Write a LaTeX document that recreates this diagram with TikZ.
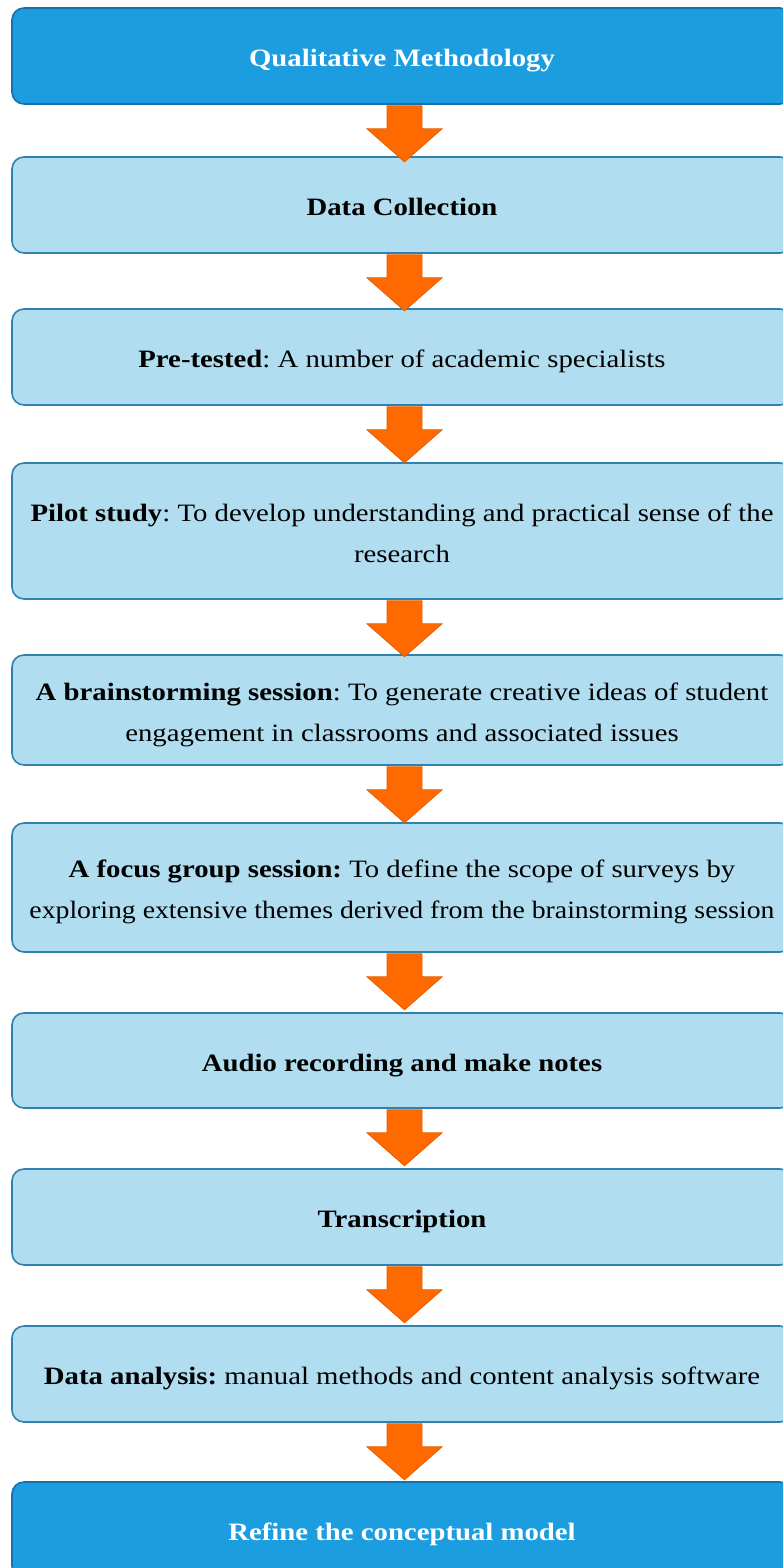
\documentclass[tikz,border=0pt]{standalone}
\usepackage{fontspec}
\usepackage{graphicx}
\setmainfont{Liberation Serif}[FakeStretch=1.15]
\usetikzlibrary{calc}

\definecolor{darkfill}{HTML}{1C9DDF}
\definecolor{darkedge}{HTML}{1670AE}
\definecolor{lightfill}{HTML}{B0DDEF}
\definecolor{lightedge}{HTML}{2F82B0}
\definecolor{arrowfill}{HTML}{FF6A00}
\definecolor{arrowedge}{HTML}{E45C00}

% struts that fix the height of a first line and the depth of a last line
\newcommand\firststrut{\rule{0pt}{28pt}}
\newcommand\laststrut{\rule[-7pt]{0pt}{0pt}}

\tikzset{
  stage/.style={draw=lightedge, fill=lightfill, line width=1.6pt,
    rounded corners=12pt, minimum width=780pt,
    align=center, inner sep=0pt, text=black,
    font=\fontsize{25}{41}\selectfont\frenchspacing},
  keystage/.style={stage, draw=darkedge, fill=darkfill, text=white,
    font=\fontsize{25}{41}\selectfont\frenchspacing\bfseries},
  flowarrow/.style={fill=arrowfill, draw=arrowedge, line width=0.8pt,
    line join=miter}
}

% block arrow hanging below the first node, pointing at the second
\newcommand\stepto[2]{%
  \path[flowarrow] let \p1=(#1.south), \p2=(#2.north) in
    (387pt,\y1-1pt) -- (422pt,\y1-1pt) -- (422pt,\y1-24pt) --
    (442pt,\y1-24pt) -- (404.5pt,\y1-57pt) -- (367pt,\y1-24pt) --
    (387pt,\y1-24pt) -- cycle;}

\begin{document}
\begin{tikzpicture}[x=1pt,y=-1pt]
  \useasboundingbox (0,0) rectangle (783,1568);
  \clip (0,0) rectangle (783,1568);

  \node[keystage, minimum height=96pt] (qm) at (402,56)
    {\firststrut Qualitative Methodology\laststrut};
  \node[stage, minimum height=96pt] (dc) at (402,205)
    {\firststrut\textbf{Data Collection}\laststrut};
  \node[stage, minimum height=96pt] (pt) at (402,357)
    {\firststrut\textbf{Pre-tested}: A number of academic specialists\laststrut};
  \node[stage, minimum height=136pt] (ps) at (402,531)
    {\firststrut\textbf{Pilot study}: To develop understanding and practical sense of the\\research\laststrut};
  \node[stage, minimum height=110pt] (bs) at (402,710)
    {\firststrut\textbf{A brainstorming session}: To generate creative ideas of student\\engagement in classrooms and associated issues\laststrut};
  \node[stage, minimum height=129pt] (fg) at (402,887.5)
    {\firststrut\textbf{A focus group session:} To define the scope of surveys by\\\scalebox{0.965}[1]{exploring extensive themes derived from the brainstorming session}\laststrut};
  \node[stage, minimum height=95pt] (ar) at (402,1060.5)
    {\firststrut\textbf{Audio recording and make notes}\laststrut};
  \node[stage, minimum height=96pt] (tr) at (402,1217)
    {\firststrut\textbf{Transcription}\laststrut};
  \node[stage, minimum height=96pt] (da) at (402,1374)
    {\firststrut\textbf{Data analysis:} manual methods and content analysis software\laststrut};
  \node[keystage, minimum height=96pt] (rc) at (402,1530)
    {\firststrut Refine the conceptual model\laststrut};

  \stepto{qm}{dc}
  \stepto{dc}{pt}
  \stepto{pt}{ps}
  \stepto{ps}{bs}
  \stepto{bs}{fg}
  \stepto{fg}{ar}
  \stepto{ar}{tr}
  \stepto{tr}{da}
  \stepto{da}{rc}
\end{tikzpicture}
\end{document}
